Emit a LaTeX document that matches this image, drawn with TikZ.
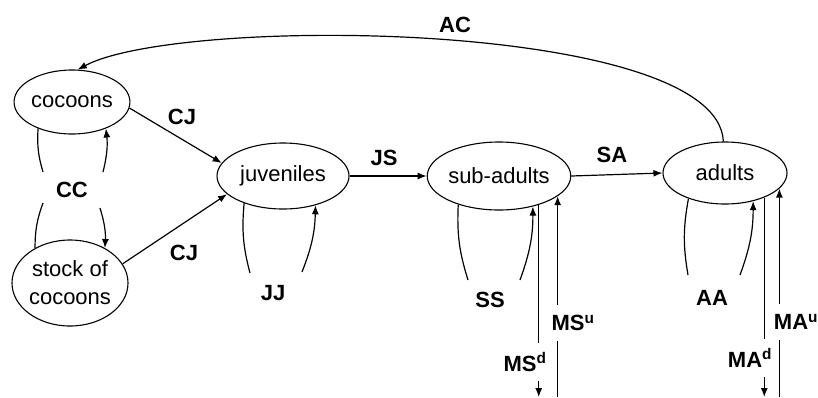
\documentclass[tikz,border=0pt]{standalone}
\usepackage{fontspec}
\setmainfont{Liberation Sans}
\usetikzlibrary{arrows.meta,shapes.geometric}
\begin{document}
\begin{tikzpicture}[x=1pt,y=-1pt,
  every node/.style={font=\fontsize{22}{28}\selectfont},
  state/.style={ellipse,draw,line width=1.1pt,inner sep=0pt,align=center},
  lab/.style={font=\fontsize{22}{28}\selectfont\bfseries,inner sep=1pt},
  gaplab/.style={lab,fill=white,inner xsep=1pt,inner ysep=10pt},
  conn/.style={line width=1.2pt,-{Latex[length=9pt,width=7pt]}},
  plain/.style={line width=1.2pt}]
\useasboundingbox (0,0) rectangle (818,397);
\coordinate (bottom) at (0,397);
% states
\node[state,minimum width=110pt,minimum height=64pt] (coc) at (72,102) {cocoons};
\node[state,minimum width=116pt,minimum height=86pt] (stock) at (70,283) {stock of\\cocoons};
\node[state,minimum width=132pt,minimum height=66pt] (juv) at (283,176) {juveniles};
\node[state,minimum width=134pt,minimum height=68pt] (sub) at (499,176) {sub-adults};
\node[state,minimum width=124pt,minimum height=62pt] (adu) at (725,173) {adults};
% loop ends
\coordinate (cc1) at (43,172);
\coordinate (cc2) at (103,172);
\coordinate (cc3) at (43,203);
\coordinate (cc4) at (100,208);
\coordinate (jj1) at (250,273);
\coordinate (jj2) at (302,272);
\coordinate (ss1) at (468,280);
\coordinate (ss2) at (520,280);
\coordinate (aa1) at (688,275);
\coordinate (aa2) at (740,275);
% CC loops
\draw[plain] (coc.218) to[bend right=10] (cc1);
\draw[conn] (cc2) to[bend right=10] (coc.322);
\draw[plain] (cc3) to[bend right=10] (stock.135);
\draw[conn] (cc4) to[bend left=10] (stock.45);
% CJ
\draw[conn] (coc.-6) -- (juv.168);
\draw[conn] (stock.20) -- (juv.198);
% JJ
\draw[plain] (juv.215) to[bend right=10] (jj1);
\draw[conn] (jj2) to[bend right=10] (juv.318);
% JS, SA
\draw[conn] (juv.east) -- (sub.west);
\draw[conn] (sub.east) -- (adu.west);
% SS
\draw[plain] (sub.215) to[bend right=10] (ss1);
\draw[conn] (ss2) to[bend right=10] (sub.318);
% AA
\draw[plain] (adu.215) to[bend right=10] (aa1);
\draw[conn] (aa2) to[bend right=10] (adu.315);
% migration
\draw[conn] (sub.324) -- (sub.324 |- bottom);
\draw[conn] (sub.341 |- bottom) -- (sub.341);
\draw[conn] (adu.328) -- (adu.328 |- bottom);
\draw[conn] (adu.344 |- bottom) -- (adu.344);
% AC
\draw[conn] (adu.93) .. controls (718,20) and (180,15) .. (coc.80);
% labels
\node[lab] (lCC) at (72,190) {CC};
\node[lab] (lCJa) at (182,117) {CJ};
\node[lab] (lCJb) at (184,253) {CJ};
\node[lab] (lJJ) at (273,293) {JJ};
\node[lab] (lJS) at (384,158) {JS};
\node[lab] (lSS) at (490,300) {SS};
\node[lab] (lSA) at (612,155) {SA};
\node[lab] (lAA) at (712,298) {AA};
\node[lab] (lAC) at (455,25) {AC};
\node[gaplab] (lMSd) at (525,362) {MS\textsuperscript{d}};
\node[gaplab] (lMSu) at (573,323) {MS\textsuperscript{u}};
\node[gaplab] (lMAd) at (750,358) {MA\textsuperscript{d}};
\node[gaplab] (lMAu) at (796,322) {MA\textsuperscript{u}};
\end{tikzpicture}
\end{document}
